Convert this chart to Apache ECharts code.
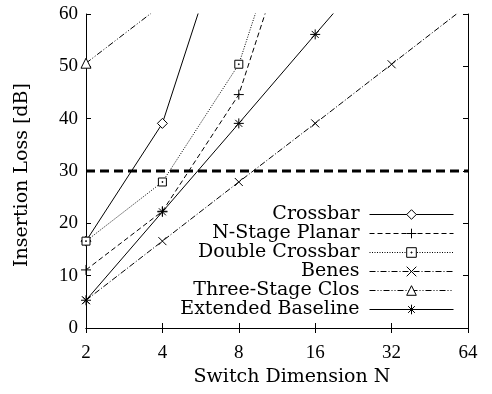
<!DOCTYPE html>
<html>
<head>
<meta charset="utf-8">
<script src="https://cdn.jsdelivr.net/npm/echarts@6/dist/echarts.min.js"></script>
<style>
  html, body { margin: 0; padding: 0; background: #fff; }
  #chart { width: 492px; height: 394px; }
</style>
</head>
<body>
<div id="chart"></div>
<script>
// switch dimension N (x), insertion loss in dB (y)
const switchN = [2, 4, 8, 16, 32, 64];
const xTicks = [2, 4, 8, 16, 32, 64];
const yTicks = [0, 10, 20, 30, 40, 50, 60];

const crossbar = [16.6, 39.1, 84];
const nStagePlanar = [11.1, 22.3, 44.6, 89.5];
const doubleCrossbar = [16.6, 27.9, 50.4, 95];
const benes = [5.3, 16.6, 27.9, 39.1, 50.4, 61.7];
const threeStageClos = [50.6, 61.8, 73];
const extendedBaseline = [5.3, 22.2, 39.1, 56.1, 73.0];
const lossLimit = 30;

const serif = 'DejaVu Serif';
const digits = 'Liberation Serif';

function pairs(arr) {
  return arr.map((v, i) => [switchN[i], v]);
}

// markers (gnuplot-ish point types)
const plusSym = 'path://M0,5L10,5M5,0L5,10';
const crossSym = 'path://M0,0L10,10M0,10L10,0';
const starSym = 'path://M0,5L10,5M5,0L5,10M1.5,1.5L8.5,8.5M1.5,8.5L8.5,1.5';
const dotSquareSym = 'path://M0,0L10,0L10,10L0,10ZM4.5,4.5L5.5,4.5L5.5,5.5L4.5,5.5Z';

function mkSeries(name, arr, symbol, size, dash) {
  return {
    name: name,
    type: 'line',
    data: pairs(arr),
    symbol: symbol,
    symbolSize: size,
    showAllSymbol: true,
    clip: true,
    lineStyle: { color: '#000', width: 1, type: dash },
    itemStyle: { color: '#fff', borderColor: '#000', borderWidth: 1 },
    emphasis: { disabled: true },
    animation: false
  };
}

const chart = echarts.init(document.getElementById('chart'), null, { renderer: 'canvas' });

const axisTick = { show: true, inside: true, length: 5, lineStyle: { color: '#000', width: 1 } };
const axisLine = { show: true, lineStyle: { color: '#000', width: 1 } };

const option = {
  backgroundColor: '#fff',
  animation: false,
  grid: { left: 86, right: 24, top: 14, bottom: 66, show: false },
  legend: {
    data: ['Crossbar', 'N-Stage Planar', 'Double Crossbar', 'Benes', 'Three-Stage Clos', 'Extended Baseline'],
    orient: 'vertical',
    align: 'right',
    right: 38,
    top: 205,
    padding: 0,
    itemGap: 0,
    itemWidth: 84,
    itemHeight: 12,
    selectedMode: false,
    lineStyle: { width: 1 },
    itemStyle: { borderWidth: 1, borderColor: '#000', color: '#fff' },
    textStyle: { fontFamily: serif, fontSize: 19, color: '#000', lineHeight: 18.5, padding: [0, 5, 0, 0] }
  },
  xAxis: [
    {
      type: 'log',
      logBase: 2,
      min: 2,
      max: 64,
      interval: 1,
      name: 'Switch Dimension N',
      nameLocation: 'middle',
      nameGap: 38,
      nameTextStyle: { fontFamily: serif, fontSize: 19, color: '#000', padding: [0, 0, 0, 30] },
      axisLine: axisLine,
      axisTick: axisTick,
      splitLine: { show: false },
      minorTick: { show: false },
      axisLabel: {
        margin: 16,
        fontFamily: digits,
        fontSize: 19,
        color: '#000',
        showMinLabel: true,
        showMaxLabel: true,
        formatter: v => String(xTicks.find(t => Math.abs(t - v) < 0.01) || Math.round(v))
      }
    },
    {
      type: 'log',
      logBase: 2,
      min: 2,
      max: 64,
      interval: 1,
      position: 'top',
      axisLine: axisLine,
      axisTick: axisTick,
      axisLabel: { show: false },
      splitLine: { show: false }
    }
  ],
  yAxis: [
    {
      type: 'value',
      min: yTicks[0],
      max: yTicks[yTicks.length - 1],
      interval: 10,
      name: 'Insertion Loss [dB]',
      nameLocation: 'middle',
      nameGap: 54,
      nameTextStyle: { fontFamily: serif, fontSize: 19, color: '#000', padding: [0, 8, 0, 0] },
      axisLine: axisLine,
      axisTick: axisTick,
      splitLine: { show: false },
      axisLabel: { margin: 8, fontFamily: digits, fontSize: 19, color: '#000' }
    },
    {
      type: 'value',
      min: yTicks[0],
      max: yTicks[yTicks.length - 1],
      interval: 10,
      position: 'right',
      axisLine: axisLine,
      axisTick: axisTick,
      axisLabel: { show: false },
      splitLine: { show: false }
    }
  ],
  series: [
    mkSeries('Crossbar', crossbar, 'diamond', 10, 'solid'),
    mkSeries('N-Stage Planar', nStagePlanar, plusSym, 10, [5, 3]),
    mkSeries('Double Crossbar', doubleCrossbar, dotSquareSym, 8, [1, 1.5]),
    mkSeries('Benes', benes, crossSym, 8, [6, 2, 1, 2]),
    mkSeries('Three-Stage Clos', threeStageClos, 'triangle', 10, [6, 2, 1, 2, 1, 2]),
    mkSeries('Extended Baseline', extendedBaseline, starSym, 10, 'solid'),
    {
      name: 'limit',
      type: 'line',
      data: [[switchN[0], lossLimit], [switchN[switchN.length - 1], lossLimit]],
      symbol: 'none',
      lineStyle: { color: '#000', width: 3, type: [9, 5] },
      emphasis: { disabled: true },
      z: 1
    }
  ]
};

chart.setOption(option);
</script>
</body>
</html>
